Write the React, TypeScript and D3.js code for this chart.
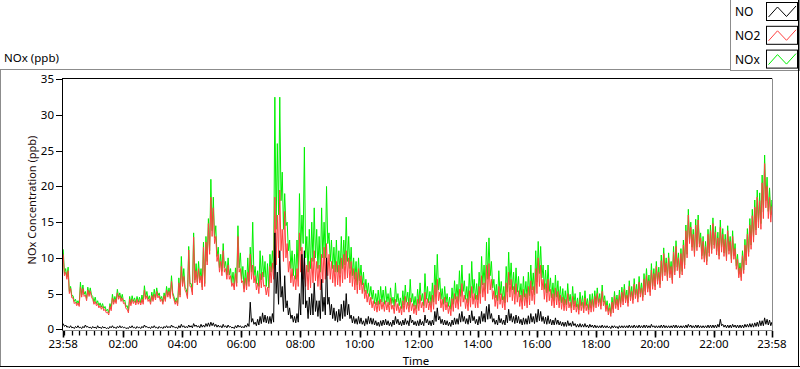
import React from "react";
import * as d3 from "d3";

// 5-minute bins starting at 23:58; each bin has the top and the bottom of the trace
const NO2_HIGH: number[] = [
  10.5,8.0,8.2,5.7,4.4,3.8,3.7,5.9,5.7,4.8,5.5,5.3,
  4.2,3.9,3.6,3.3,3.2,2.8,2.4,3.2,4.4,4.2,5.1,4.7,
  4.4,3.7,2.8,4.2,4.2,4.0,4.2,4.0,4.2,5.5,4.7,4.2,
  4.7,4.9,5.3,4.7,4.2,4.7,5.5,5.3,6.7,4.2,4.0,6.5,
  8.8,7.4,5.1,11.1,5.9,12.9,8.2,8.5,7.5,11.5,12.2,14.8,
  18.5,17.0,13.0,10.5,9.5,11.0,8.5,9.0,7.5,6.5,7.8,13.0,
  8.5,6.8,7.2,8.0,10.5,9.0,7.5,6.5,7.8,8.0,6.2,5.9,
  8.8,9.3,18.5,16,19.5,14,16.5,12,9.5,8.5,7.5,8.5,
  13.5,11.5,10,9,9.5,10,11,9.5,9,10.5,11.5,12,
  10.5,9.5,9,9.5,9,10,10.5,11,10,9.5,8.5,8,
  8.5,7.5,6.5,5.5,5.0,4.5,4.0,3.8,4.0,4.2,3.8,4.0,
  3.8,4.4,3.4,4.2,3.6,3.2,4.0,4.6,3.8,4.4,3.6,3.4,
  4.2,4.8,3.8,5.2,4.3,3.9,4.8,6.2,7.0,5.2,4.2,4.5,
  3.8,3.3,4.3,5.0,4.6,5.6,6.4,4.8,4.3,5.4,6.0,5.0,
  4.8,6.0,7.5,6.5,9.0,9.2,7.0,5.4,4.8,6.0,5.0,4.6,
  6.5,8.0,7.0,6.0,6.4,5.4,4.8,5.6,5.0,6.0,6.8,6.0,
  8.5,10.0,9.0,7.0,6.4,7.0,5.6,5.0,5.8,5.3,4.8,4.5,
  4.2,5.0,3.8,4.6,4.0,3.5,4.2,3.8,4.4,3.5,4.0,4.2,
  4.6,5.0,4.3,5.3,4.0,3.4,3.0,3.8,4.6,4.2,4.8,5.2,
  5.6,4.8,6.0,5.3,6.3,5.6,6.6,5.8,7.0,7.6,6.8,8.3,
  7.8,8.8,8.0,9.6,10.6,9.3,10.0,8.8,10.8,11.6,10.0,10.6,
  11.8,13.8,16.0,14.3,13.3,14.6,15.3,12.8,12.3,11.6,13.3,13.8,
  14.8,13.6,12.8,14.3,13.3,12.6,13.8,12.3,13.0,11.3,9.8,8.6,
  10.3,11.8,13.3,14.6,15.9,17.1,18.5,18.0,20.5,23.2,20.0,18.5,17.2,
];
const NO2_LOW: number[] = [
  7.5,7.0,5.0,4.4,3.6,3.3,3.2,4.5,4.6,4.0,4.6,4.5,
  3.5,3.3,3.0,2.8,2.6,2.3,2.0,2.6,3.5,3.6,4.2,3.9,
  3.6,2.9,2.3,3.3,3.6,3.4,3.5,3.4,3.5,4.2,3.9,3.5,
  3.9,4.1,4.4,3.9,3.5,3.9,4.5,4.3,4.8,3.5,3.3,4.5,
  6.0,5.5,4.3,6.0,4.8,6.5,6.2,6.5,5.5,6.0,9.0,10.5,
  13.0,12.0,9.5,8.0,7.5,8.0,7.0,7.0,6.0,5.5,6.0,8.0,
  6.5,5.2,5.5,6.0,7.0,6.5,5.5,5.0,5.8,6.0,4.8,4.6,
  6.5,7.0,9.0,10.0,11.0,9.5,10.0,8.0,6.5,6.0,5.5,6.0,
  8.0,7.0,6.0,5.5,5.8,6.5,6.8,6.0,5.5,6.5,7.0,7.5,
  7.0,6.5,6.0,6.2,6.0,6.5,7.0,7.2,6.5,6.0,5.5,5.0,
  5.5,5.0,4.3,3.8,3.4,3.0,2.6,2.4,2.6,2.8,2.5,2.7,
  2.4,2.8,2.2,2.6,2.3,2.0,2.4,2.8,2.4,2.6,2.2,2.0,
  2.6,3.0,2.4,3.0,2.7,2.4,2.8,3.5,4.0,3.0,2.5,2.7,
  2.2,1.9,2.5,3.0,2.8,3.2,3.8,2.9,2.6,3.1,3.5,3.0,
  3.0,3.6,4.5,4.0,5.0,5.5,4.2,3.2,2.9,3.5,3.0,2.7,
  3.8,4.5,4.0,3.5,3.8,3.2,2.8,3.3,3.0,3.4,4.0,3.5,
  5.0,6.0,5.5,4.2,3.8,4.0,3.3,3.0,3.4,3.0,2.8,2.6,
  2.6,3.0,2.3,2.7,2.4,2.1,2.6,2.3,2.6,2.1,2.4,2.5,
  3.0,3.2,2.8,3.3,2.5,2.0,1.8,2.3,2.9,2.7,3.1,3.4,
  3.7,3.2,4.0,3.6,4.3,3.8,4.5,4.0,4.8,5.2,4.7,5.6,
  5.5,6.3,5.8,6.8,7.5,6.8,7.2,6.4,7.6,8.2,7.2,7.6,
  8.5,10.0,12.0,11.0,10.2,11.0,11.5,9.8,9.4,9.0,10.2,10.6,
  11.3,10.4,9.8,10.8,10.2,9.6,10.5,9.3,9.8,8.4,7.2,6.8,
  7.8,9.0,10.2,11.2,12.2,13.2,14.2,14.0,15.5,17.0,15.5,15.0,15.8,
];

const NOX_HIGH: number[] = [
  11.2,8.5,8.7,6.0,4.7,4.2,4.0,6.6,6.2,5.3,5.9,5.8,
  4.6,4.5,4.0,3.7,3.6,3.2,2.8,3.6,4.9,4.6,5.6,5.1,
  4.9,4.1,3.3,4.6,4.7,4.4,4.6,4.5,4.8,6.1,5.3,4.7,
  5.2,5.6,5.8,5.1,4.6,5.1,6.0,5.8,7.5,4.6,4.4,7.2,
  10.2,8.5,5.6,11.6,6.4,13.5,9.2,9.5,8.5,12.2,13.0,15.5,
  21.0,18.5,14.5,11.5,10.5,12.0,9.5,10.0,8.5,8.0,8.6,14.5,
  10.7,8.8,8.3,10.0,11.5,15.0,8.8,8.2,11.0,10.3,9.5,9.2,
  10.5,11.0,32.5,26,32.5,22,19,15,12.5,11,10.5,12.5,
  19,16,25.5,13,14,15,17,14,13,17,15,20,
  13.5,12.5,11.5,12.5,11,13,12.5,15.7,13,11.5,10,9.5,
  10,9,8,7,6.5,6,5.5,5,5.5,6,5.5,6,
  5.0,5.8,4.5,6.5,5.0,4.4,5.4,6.2,5.2,7.0,5.0,4.6,
  5.6,6.5,5.0,7.8,6.0,5.3,6.5,9.0,10.5,7.2,5.7,6.0,
  5.0,4.5,5.8,6.8,6.3,8.2,9.0,6.8,6.0,7.8,9.5,7.0,
  6.4,8.0,10.2,9.0,12.2,12.8,9.5,7.0,6.3,8.2,6.7,6.0,
  8.8,10.8,9.3,8.0,8.6,7.4,6.4,7.4,6.7,8.0,9.0,7.9,
  11.0,12.3,11.6,9.0,8.3,9.0,7.2,6.5,7.6,6.8,6.0,5.7,
  5.4,6.4,4.9,6.0,5.0,4.4,5.2,4.7,5.4,4.3,4.9,5.0,
  5.4,5.8,5.0,6.2,4.7,4.0,3.6,4.5,5.3,4.8,5.5,5.9,
  6.3,5.5,6.8,6.0,7.1,6.3,7.4,6.5,7.8,8.5,7.6,9.2,
  8.5,9.5,8.7,10.4,11.4,10.0,10.7,9.5,11.6,12.4,10.7,11.3,
  12.5,14.6,16.8,15.0,14.0,15.4,16.0,13.5,13.0,12.3,14.0,14.6,
  15.6,14.4,13.6,15.3,14.1,13.3,14.5,13.0,13.8,12.0,10.5,9.3,
  11.0,12.6,14.1,15.5,16.8,18.1,19.5,19.1,21.6,24.4,21.3,19.8,18.1,
];
const NOX_LOW: number[] = [
  7.8,7.3,5.3,4.7,3.9,3.6,3.5,4.8,4.9,4.3,4.9,4.8,
  3.8,3.6,3.3,3.1,2.9,2.6,2.3,2.9,3.8,3.9,4.5,4.2,
  3.9,3.2,2.6,3.6,3.9,3.7,3.8,3.7,3.8,4.5,4.2,3.8,
  4.2,4.4,4.7,4.2,3.8,4.2,4.8,4.6,5.1,3.8,3.6,4.8,
  6.4,5.9,4.7,6.4,5.2,6.9,6.6,6.9,5.9,6.4,9.5,11.0,
  13.8,12.8,10.2,8.6,8.1,8.6,7.6,7.6,6.5,6.0,6.5,8.6,
  7.0,5.7,6.1,6.7,8.0,7.5,6.4,6.0,6.9,7.3,6.0,5.8,
  8.0,8.5,14.0,16.0,18.0,14.0,14.5,11.0,8.5,7.5,7.0,7.5,
  11.0,12.0,10.0,8.0,8.5,9.5,10.0,8.5,8.0,10.0,10.0,12.0,
  9.5,8.5,8.0,8.0,7.8,8.5,9.0,9.5,8.5,7.5,7.0,6.2,
  6.8,6.2,5.3,5.0,4.6,4.2,3.6,3.4,3.5,3.8,3.5,3.8,
  3.4,3.6,3.2,3.8,3.3,2.9,3.4,3.8,3.3,3.8,3.2,2.9,
  3.6,4.0,3.3,4.2,3.7,3.3,3.8,4.8,5.5,4.2,3.5,3.7,
  3.2,2.8,3.5,4.2,3.9,4.6,5.3,4.2,3.7,4.4,5.0,4.2,
  4.1,5.0,6.2,5.6,7.0,7.5,5.8,4.4,4.0,4.8,4.1,3.7,
  5.2,6.2,5.5,4.9,5.2,4.5,3.9,4.5,4.2,4.7,5.5,4.8,
  6.6,7.8,7.2,5.6,5.1,5.3,4.4,4.0,4.5,4.0,3.7,3.4,
  3.4,3.9,3.0,3.5,3.1,2.7,3.3,2.9,3.3,2.7,3.0,3.1,
  3.5,3.7,3.3,3.8,3.0,2.5,2.2,2.8,3.4,3.2,3.6,3.9,
  4.2,3.7,4.5,4.1,4.8,4.3,5.0,4.5,5.3,5.7,5.2,6.1,
  6.0,6.8,6.3,7.3,8.0,7.3,7.7,6.9,8.1,8.7,7.7,8.1,
  9.0,10.5,12.6,11.5,10.7,11.5,12.0,10.3,9.9,9.5,10.7,11.1,
  11.8,10.9,10.3,11.5,10.7,10.1,11.0,9.8,10.3,8.9,7.7,7.3,
  8.3,9.6,10.8,11.8,12.9,13.9,15.0,14.8,16.4,18.0,16.5,16.0,16.6,
];

const NO_HIGH: number[] = [
  0.8,0.6,0.4,0.5,0.3,0.4,0.5,0.3,0.4,0.6,0.4,0.3,
  0.4,0.3,0.5,0.3,0.4,0.3,0.2,0.4,0.5,0.3,0.4,0.5,
  0.4,0.3,0.2,0.4,0.5,0.3,0.4,0.3,0.4,0.6,0.4,0.3,
  0.4,0.5,0.3,0.4,0.3,0.4,0.5,0.4,0.6,0.4,0.3,0.5,
  0.7,0.5,0.4,0.6,0.5,0.8,0.6,0.5,0.7,0.6,0.8,0.9,
  1.0,0.9,0.7,0.6,0.5,0.7,0.5,0.6,0.4,0.3,0.5,0.6,
  0.5,0.4,0.6,0.8,3.8,1.5,1.0,1.4,1.8,2.3,2.0,1.8,
  1.8,2.2,13.5,8.0,11.0,6.0,7.5,4.0,3.0,2.0,1.8,2.2,
  5,10.5,11,4,4.5,5,6.5,4,4,7,4.5,10,
  4.5,3.5,3.0,2.5,2.8,3.5,4.0,5.0,3.5,2.0,1.8,1.5,
  1.8,1.6,1.2,1.5,1.8,1.6,1.5,1.2,1.0,1.2,1.3,1.4,
  1.2,1.0,1.3,1.8,1.4,1.1,1.3,1.5,1.2,2.0,1.3,1.1,
  1.2,1.4,1.1,2.0,1.4,1.2,1.3,2.5,3.0,1.8,1.4,1.3,
  1.2,1.0,1.3,1.6,1.5,2.2,2.5,1.8,1.5,2.0,2.6,1.8,
  1.4,1.8,2.5,2.2,3.2,3.5,2.2,1.5,1.3,2.0,1.5,1.3,
  2.0,2.8,2.2,1.8,2.0,1.8,1.4,1.6,1.5,1.9,2.2,1.8,
  2.2,2.8,2.5,1.8,1.7,1.9,1.4,1.3,1.6,1.3,1.1,1.0,
  1.0,1.2,0.9,1.1,0.8,0.7,0.8,0.7,0.8,0.6,0.7,0.6,
  0.6,0.5,0.5,0.6,0.5,0.5,0.4,0.5,0.5,0.4,0.5,0.5,
  0.5,0.5,0.6,0.5,0.6,0.5,0.6,0.5,0.6,0.6,0.5,0.7,
  0.5,0.5,0.5,0.6,0.6,0.5,0.5,0.5,0.6,0.6,0.5,0.5,
  0.5,0.6,0.7,0.6,0.5,0.6,0.6,0.5,0.5,0.5,0.6,0.6,
  0.6,0.6,0.7,1.4,0.7,0.6,0.6,0.6,0.7,0.6,0.6,0.6,
  0.6,0.7,0.7,0.8,0.8,0.9,1.0,1.2,1.2,1.6,1.4,1.3,1.0,
];
const NO_LOW: number[] = [
  0.4,0.3,0.2,0.2,0.1,0.2,0.2,0.1,0.2,0.3,0.2,0.1,
  0.2,0.1,0.2,0.1,0.2,0.1,0.1,0.2,0.2,0.1,0.2,0.2,
  0.2,0.1,0.1,0.2,0.2,0.1,0.2,0.1,0.2,0.3,0.2,0.1,
  0.2,0.2,0.1,0.2,0.1,0.2,0.2,0.2,0.3,0.2,0.1,0.2,
  0.3,0.2,0.2,0.3,0.2,0.4,0.3,0.2,0.3,0.3,0.4,0.4,
  0.5,0.4,0.3,0.3,0.2,0.3,0.2,0.3,0.2,0.1,0.2,0.3,
  0.2,0.2,0.3,0.4,1.0,0.7,0.5,0.6,0.8,1.0,0.9,0.8,
  0.8,1.0,5.0,3.5,4.5,2.5,3.0,2.0,1.5,1.0,0.9,1.0,
  2.0,3.5,3.0,1.5,2.0,2.0,2.5,1.8,1.5,2.5,2.0,3.5,
  2.0,1.5,1.2,1.0,1.2,1.5,1.8,2.0,1.5,0.9,0.8,0.7,
  0.8,0.7,0.5,0.7,0.8,0.7,0.6,0.5,0.4,0.5,0.6,0.6,
  0.5,0.4,0.6,0.8,0.6,0.5,0.6,0.7,0.5,0.9,0.6,0.5,
  0.5,0.6,0.5,0.9,0.6,0.5,0.6,1.1,1.3,0.8,0.6,0.6,
  0.5,0.4,0.6,0.7,0.7,1.0,1.1,0.8,0.7,0.9,1.2,0.8,
  0.6,0.8,1.1,1.0,1.4,1.5,1.0,0.7,0.6,0.9,0.7,0.6,
  0.9,1.2,1.0,0.8,0.9,0.8,0.6,0.7,0.7,0.8,1.0,0.8,
  1.0,1.2,1.1,0.8,0.7,0.8,0.6,0.6,0.7,0.6,0.5,0.4,
  0.4,0.5,0.4,0.5,0.3,0.3,0.3,0.3,0.3,0.2,0.3,0.2,
  0.2,0.2,0.2,0.2,0.2,0.2,0.1,0.2,0.2,0.1,0.2,0.2,
  0.2,0.2,0.2,0.2,0.2,0.2,0.2,0.2,0.2,0.2,0.2,0.3,
  0.2,0.2,0.2,0.2,0.2,0.2,0.2,0.2,0.2,0.2,0.2,0.2,
  0.2,0.2,0.3,0.2,0.2,0.2,0.2,0.2,0.2,0.2,0.2,0.2,
  0.2,0.2,0.3,0.5,0.3,0.2,0.2,0.2,0.3,0.2,0.2,0.2,
  0.2,0.3,0.3,0.3,0.3,0.4,0.4,0.5,0.5,0.7,0.6,0.5,0.4,
];

const BIN_MINUTES = 5;
const xTickLabels = ["23:58","02:00","04:00","06:00","08:00","10:00","12:00","14:00","16:00","18:00","20:00","22:00","23:58"];
const xTickMinutes = [0,122,242,362,482,602,722,842,962,1082,1202,1322,1440];
const yTicks = [0,5,10,15,20,25,30,35];
const legendNames = ["NO","NO2","NOx"];
const seriesColors = ["#000000","#ff4040","#00f000"];

const FONT = "'Noto Sans', sans-serif";

type Pt = [number, number];
function trace(high: number[], low: number[]): Pt[] {
  const pts: Pt[] = [];
  high.forEach((h, j) => {
    pts.push([j * BIN_MINUTES, h]);
    pts.push([j * BIN_MINUTES + BIN_MINUTES / 2, low[j]]);
  });
  return pts;
}

export default function App() {
  const W = 800, H = 369;
  const left = 62, right = 772, top = 78.5, bottom = 330.5;
  const x = d3.scaleLinear().domain([0, 1440]).range([63.2, 772]);
  const y = d3.scaleLinear().domain([0, 35]).range([329.3, 79.3]);
  const line = d3.line<Pt>().x((d) => x(d[0])).y((d) => y(d[1]));
  const minor = d3.range(2, 1441, 15);
  const series: { pts: Pt[]; color: string }[] = [
    { pts: trace(NOX_HIGH, NOX_LOW), color: seriesColors[2] },
    { pts: trace(NO2_HIGH, NO2_LOW), color: seriesColors[1] },
    { pts: trace(NO_HIGH, NO_LOW), color: seriesColors[0] },
  ];
  const gray = "#8c8c8c";
  return (
    <svg width={W} height={H} style={{ position: "absolute", left: 0, top: 0, display: "block" }}
      fontFamily={FONT}>
      <rect x={0} y={0} width={W} height={H} fill="#fff" />
      {/* outer panel */}
      <line x1={0} x2={730} y1={69.5} y2={69.5} stroke={gray} />
      <line x1={0.5} x2={0.5} y1={69.5} y2={367} stroke={gray} />
      <line x1={0} x2={800} y1={366.5} y2={366.5} stroke="#000" />
      <line x1={798.5} x2={798.5} y1={0} y2={367} stroke="#000" />
      {/* title */}
      <text x={4} y={62} fontSize={11.5} fill="#000">NOx (ppb)</text>
      {/* plot */}
      <defs>
        <clipPath id="plotclip">
          <rect x={left + 0.5} y={top} width={right - left - 0.5} height={bottom - top} />
        </clipPath>
      </defs>
      <g clipPath="url(#plotclip)">
        {series.map((s, k) => (
          <path key={k} d={line(s.pts) || ""} fill="none" stroke={s.color} strokeWidth={1} />
        ))}
      </g>
      <line x1={left} x2={right} y1={top} y2={top} stroke="#000" />
      <line x1={right + 0.5} x2={right + 0.5} y1={top} y2={bottom} stroke={gray} />
      <line x1={left} x2={right + 1} y1={bottom} y2={bottom} stroke={gray} />
      <line x1={left + 0.5} x2={left + 0.5} y1={top - 0.5} y2={bottom} stroke="#000" />
      {/* y axis */}
      {yTicks.map((t) => (
        <g key={t}>
          <line x1={56} x2={62} y1={Math.round(y(t)) + 0.5} y2={Math.round(y(t)) + 0.5} stroke="#000" />
          <text x={54} y={y(t)} dy="0.35em" textAnchor="end" fontSize={11.5} fill="#000">{t}</text>
        </g>
      ))}
      <text transform={`translate(36,200) rotate(-90)`} textAnchor="middle" fontSize={11} fill="#1a0a0a">
        NOx Concentration (ppb)
      </text>
      {/* x axis */}
      {minor.map((m) => (
        <line key={m} x1={Math.round(x(m)) + 0.5} x2={Math.round(x(m)) + 0.5} y1={331} y2={335.5} stroke="#000" strokeWidth={1.3} />
      ))}
      {xTickMinutes.map((m, i) => (
        <g key={i}>
          <line x1={Math.round(x(m)) + 0.5} x2={Math.round(x(m)) + 0.5} y1={331} y2={337.5} stroke="#000" strokeWidth={1.6} />
          <text x={x(m)} y={348} textAnchor="middle" fontSize={11.5} fill="#000">{xTickLabels[i]}</text>
        </g>
      ))}
      <text x={416} y={365} textAnchor="middle" fontSize={11.5} fill="#000">Time</text>
      {/* legend */}
      <rect x={730.5} y={-1} width={69} height={71.5} fill="#fff" stroke={gray} />
      <line x1={798.5} x2={798.5} y1={0} y2={72} stroke="#000" />
      {legendNames.map((n, i) => {
        const by = 2.5 + i * 23.8;
        const bx = 766.5;
        const pts: Pt[] = [[2, 14.5], [11, 4.5], [20, 14], [29.5, 3.5]];
        const col = seriesColors[i];
        return (
          <g key={n}>
            <text x={735} y={by + 13.5} fontSize={12} fill="#000">{n}</text>
            <rect x={bx} y={by} width={31} height={18} fill="#fff" stroke="#000" />
            <path d={d3.line()(pts.map((p) => [bx + p[0], by + p[1]] as Pt)) || ""} fill="none" stroke={col} strokeWidth={1} />
          </g>
        );
      })}
    </svg>
  );
}
